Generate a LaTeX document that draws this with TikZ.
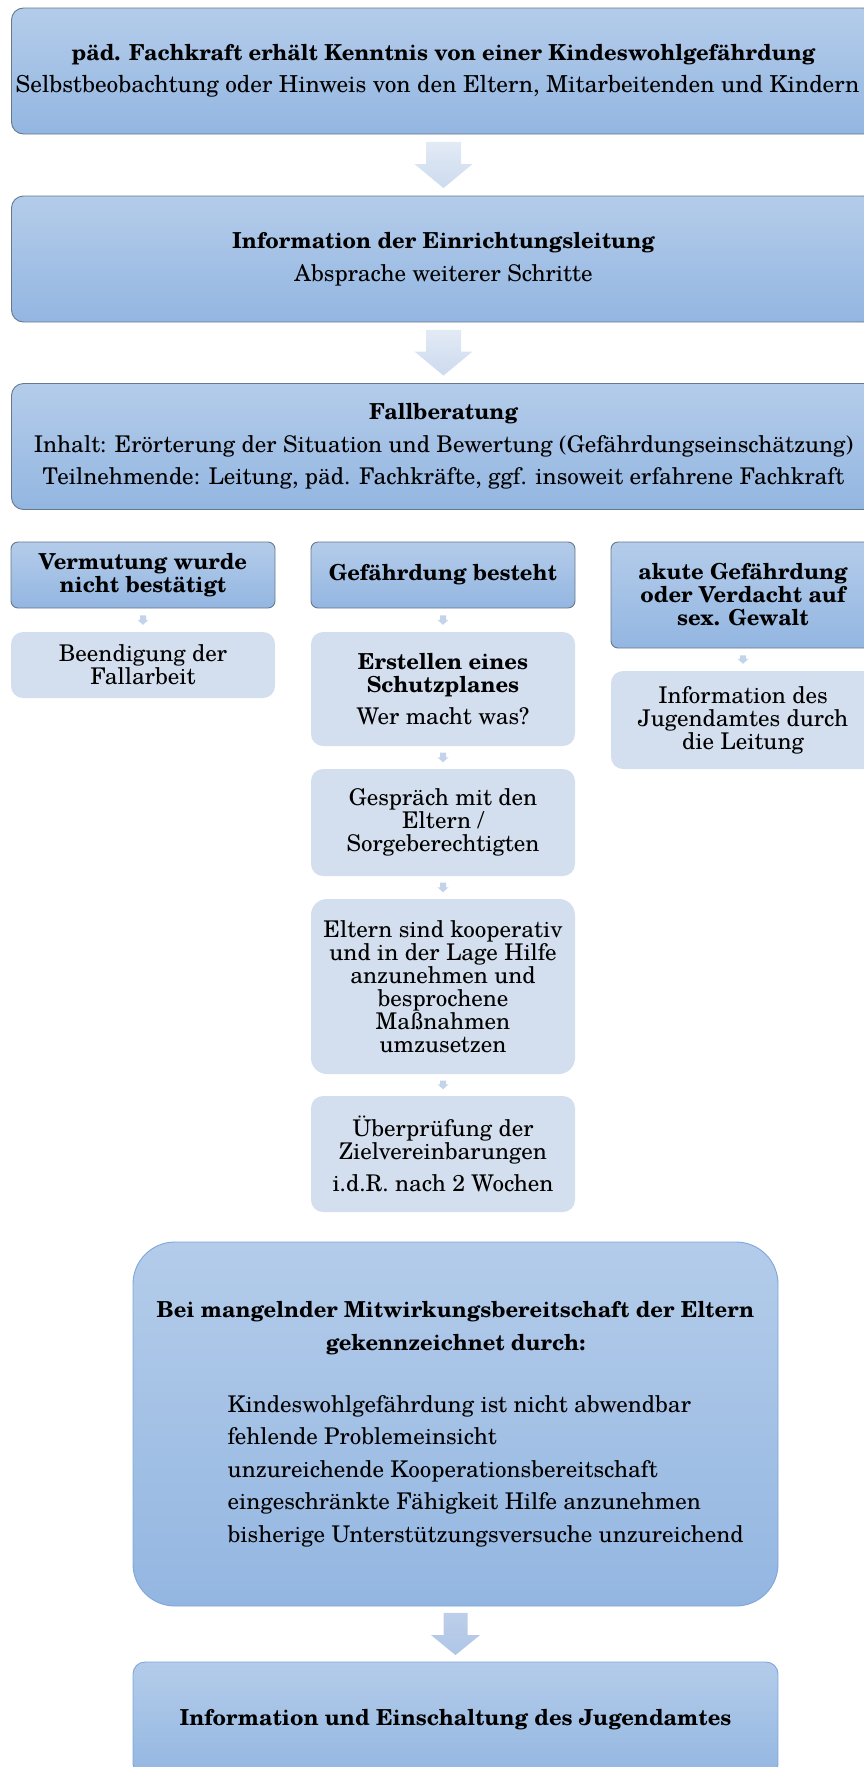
\documentclass[tikz,border=0pt]{standalone}
\usepackage{fontspec}
\setmainfont{texgyreschola}[Extension=.otf, UprightFont=*-regular, BoldFont=*-bold, ItalicFont=*-italic, BoldItalicFont=*-bolditalic]
\usetikzlibrary{calc}
\definecolor{hdrTop}{HTML}{B4CCEA}
\definecolor{hdrBot}{HTML}{93B6E1}
\definecolor{bordr}{HTML}{66788C}
\definecolor{bordrB}{HTML}{7EA6DA}
\definecolor{subFill}{HTML}{D3DFEE}
\definecolor{arrTop}{HTML}{E2EAF5}
\definecolor{arrBot}{HTML}{CCDBEF}
\definecolor{arrDark}{HTML}{B0C6E6}
\definecolor{arrSmall}{HTML}{C3D3EA}
\newcommand\blockarrow[7]{%
  \path[#7] let \p1=(#1.south), \p2=(#2.north) in
    ({\x1-#3pt},{\y1-#6pt}) -- ({\x1+#3pt},{\y1-#6pt}) -- ({\x1+#3pt},{\y2+#6pt+#5pt})
    -- ({\x1+#4pt},{\y2+#6pt+#5pt}) -- ({\x1},{\y2+#6pt}) -- ({\x1-#4pt},{\y2+#6pt+#5pt})
    -- ({\x1-#3pt},{\y2+#6pt+#5pt}) -- cycle;}
\newcommand\bt[1]{{\fontsize{22}{32.5}\selectfont\bfseries #1}}
\newcommand\bs[1]{{\fontsize{22}{23}\selectfont\bfseries #1}}
\tikzset{
  bigbox/.style={rectangle, rounded corners=12, draw=bordr, line width=0.9pt,
    top color=hdrTop, bottom color=hdrBot, align=center, inner sep=0pt,
    minimum width=864pt, minimum height=126pt,
    font=\fontsize{23}{32.5}\selectfont},
  hdrbox/.style={rectangle, rounded corners=7, draw=bordr, line width=0.9pt,
    top color=hdrTop, bottom color=hdrBot, align=center, inner sep=0pt,
    minimum width=264pt, font=\fontsize{22}{23}\selectfont\bfseries},
  subbox/.style={rectangle, rounded corners=12, fill=subFill, align=center, inner sep=0pt,
    minimum width=264pt, font=\fontsize{23}{23}\selectfont},
  bluebox/.style={rectangle, draw=bordrB, line width=0.9pt,
    top color=hdrTop, bottom color=hdrBot, align=center, inner sep=0pt,
    minimum width=645pt},
  bigarrow/.style={top color=arrTop, bottom color=arrBot},
  darkarrow/.style={top color=arrDark!85!white, bottom color=arrDark},
  smallarrow/.style={fill=arrSmall},
  plain/.style={inner sep=0pt, font=\fontsize{23}{32.5}\selectfont},
  boldtext/.style={inner sep=0pt, font=\fontsize{22}{32.5}\selectfont\bfseries}
}
\begin{document}
\begin{tikzpicture}[x=1pt,y=-1pt]
\useasboundingbox (0,0) rectangle (864,1767);
% top boxes
\node[bigbox] (b1) at (443.5,71) {\bt{päd. Fachkraft erhält Kenntnis von einer Kindeswohlgefährdung}\\{\fontsize{23.35}{32.5}\selectfont Selbstbeobachtung oder Hinweis von den Eltern, Mitarbeitenden und Kindern}\hspace*{12pt}};
\node[bigbox] (b2) at (443.5,259) {\bt{Information der Einrichtungsleitung}\\Absprache weiterer Schritte};
\node[bigbox] (b3) at (443.5,446.5) {\bt{Fallberatung}\\Inhalt: Erörterung der Situation und Bewertung (Gefährdungseinschätzung)\\Teilnehmende: Leitung, päd. Fachkräfte, ggf. insoweit erfahrene Fachkraft};
\blockarrow{b1}{b2}{17.5}{29}{24}{7.5}{bigarrow}
\blockarrow{b2}{b3}{17.5}{29}{24}{7.5}{bigarrow}
% row headers
\node[hdrbox, minimum height=66pt] (hl) at (143,575) {Vermutung wurde\\nicht bestätigt};
\node[hdrbox, minimum height=66pt] (hm) at (443,575) {Gefährdung besteht};
\node[hdrbox, minimum height=106pt] (hr) at (743,595) {akute Gefährdung\\oder Verdacht auf\\sex. Gewalt};
% sub boxes
\node[subbox, minimum height=66pt] (sl) at (143,665) {Beendigung der\\Fallarbeit};
\node[subbox, minimum height=114pt] (m1) at (443,689) {\bs{Erstellen eines}\\\bs{Schutzplanes}\\[9.5pt]Wer macht was?};
\node[subbox, minimum height=107pt] (m2) at (443,822.5) {Gespräch mit den\\Eltern /\\Sorgeberechtigten};
\node[subbox, minimum height=175pt, rounded corners=16] (m3) at (443,986.5) {Eltern sind kooperativ\\und in der Lage Hilfe\\anzunehmen und\\besprochene\\Maßnahmen\\umzusetzen};
\node[subbox, minimum height=116pt] (m4) at (443,1154) {Überprüfung der\\Zielvereinbarungen\\[9.5pt]i.d.R. nach 2 Wochen};
\node[subbox, minimum height=98pt] (sr) at (743,720) {Information des\\Jugendamtes durch\\die Leitung};
\blockarrow{hl}{sl}{3}{5.5}{5}{7}{smallarrow}
\blockarrow{hm}{m1}{3}{5.5}{5}{7}{smallarrow}
\blockarrow{m1}{m2}{3}{5.5}{5}{6.5}{smallarrow}
\blockarrow{m2}{m3}{3}{5.5}{5}{6.5}{smallarrow}
\blockarrow{m3}{m4}{3}{5.5}{5}{6.5}{smallarrow}
\blockarrow{hr}{sr}{3}{5.5}{5}{7}{smallarrow}
% lower part
\node[bluebox, rounded corners=42, minimum height=364pt] (bb) at (455.5,1424) {};
\node[boldtext, align=center, anchor=base] (btitle) at (455.5,1350)
  {Bei mangelnder Mitwirkungsbereitschaft der Eltern\\gekennzeichnet durch:};
\node[plain, align=left, anchor=base west] (blist) at (227.5,1542)
  {Kindeswohlgefährdung ist nicht abwendbar\\fehlende Problemeinsicht\\unzureichende Kooperationsbereitschaft\\eingeschränkte Fähigkeit Hilfe anzunehmen\\bisherige Unterstützungsversuche unzureichend};
\node[bluebox, rounded corners=12, minimum height=114pt] (lb) at (455.5,1719) {};
\node[boldtext, anchor=base] (ltext) at (455.5,1725) {Information und Einschaltung des Jugendamtes};
\blockarrow{bb}{lb}{12}{24.5}{20}{6.5}{darkarrow}
\end{tikzpicture}
\end{document}
